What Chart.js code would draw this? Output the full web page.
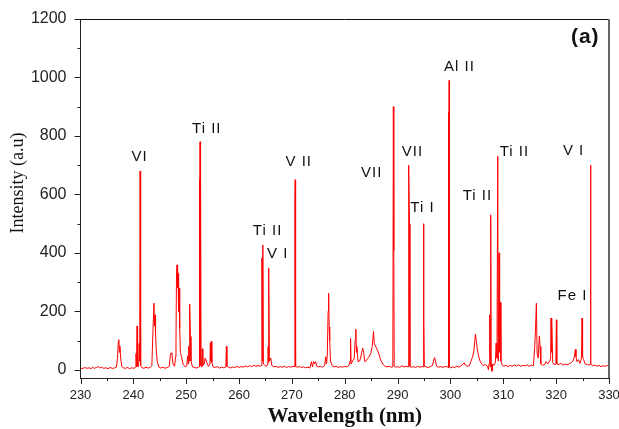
<!DOCTYPE html>
<html lang="en">
<head>
    <meta charset="UTF-8">
    <title>Emission Spectrum</title>
    <script src="https://cdn.jsdelivr.net/npm/chart.js"></script>
    <style>
        body { margin: 0; background: #fff; }
        canvas { display: block; }
    </style>
</head>
<body>
    <canvas id="spectrumChart" width="619" height="429"></canvas>

    <script>
        // spectrum (wavelength in nm, intensity in a.u)
        const wavelength = [
            230.0, 230.4, 230.8, 231.2, 231.6, 232.0, 232.3, 232.6, 233.0, 233.4, 233.7, 234.0, 234.4, 234.8, 235.2, 235.6, 236.0, 236.4, 236.8,
            237.0, 237.15, 237.25, 237.35, 237.45, 237.6, 237.8, 238.1, 238.5, 238.9, 239.3, 239.7, 240.1, 240.4, 240.5, 240.6, 240.7, 240.8,
            241.0, 241.1, 241.2, 241.28, 241.38, 241.6, 242.0, 242.4, 242.8, 243.2, 243.5, 243.7, 243.9, 244.0, 244.1, 244.2, 244.3, 244.5,
            244.8, 245.2, 245.6, 246.0, 246.4, 246.8, 247.0, 247.15, 247.3, 247.5, 247.8, 248.0, 248.07, 248.17, 248.27, 248.37, 248.46,
            248.56, 248.64, 248.77, 248.9, 249.1, 249.4, 249.8, 250.1, 250.28, 250.38, 250.47, 250.56, 250.66, 250.79, 250.9, 251.2, 251.6,
            252.0, 252.3, 252.45, 252.5, 252.55, 252.62, 252.68, 252.75, 252.82, 252.95, 253.06, 253.15, 253.4, 253.6, 253.9, 254.2, 254.5,
            254.57, 254.65, 254.76, 254.85, 255.1, 255.5, 255.9, 256.3, 256.7, 257.1, 257.5, 257.6, 257.7, 258.0, 258.4, 258.8, 259.2, 259.6,
            260.0, 260.4, 260.8, 261.2, 261.6, 262.0, 262.4, 262.8, 263.2, 263.6, 264.0, 264.25, 264.33, 264.42, 264.5, 264.6, 264.9, 265.2,
            265.45, 265.5, 265.57, 265.65, 265.75, 266.0, 266.2, 266.6, 267.0, 267.4, 267.8, 268.2, 268.6, 269.0, 269.4, 269.8, 270.2, 270.5,
            270.56, 270.62, 270.7, 271.0, 271.4, 271.8, 272.2, 272.6, 273.0, 273.4, 273.7, 273.9, 274.1, 274.3, 274.5, 274.7, 275.0, 275.4,
            275.8, 276.2, 276.4, 276.55, 276.7, 276.85, 276.95, 277.05, 277.15, 277.3, 277.6, 278.0, 278.4, 278.8, 279.2, 279.6, 280.0, 280.4,
            280.8, 281.0, 281.1, 281.2, 281.5, 281.8, 281.97, 282.1, 282.2, 282.3, 282.5, 282.8, 283.0, 283.2, 283.4, 283.6, 283.8, 284.0,
            284.3, 284.6, 284.9, 285.2, 285.44, 285.6, 285.9, 286.3, 286.8, 287.2, 287.6, 288.0, 288.4, 288.8, 289.1, 289.2, 289.28, 289.36,
            289.6, 290.0, 290.4, 290.8, 291.2, 291.6, 292.0, 292.1, 292.25, 292.33, 292.6, 293.0, 293.4, 293.8, 294.2, 294.6, 294.85, 294.9,
            294.98, 295.06, 295.4, 295.8, 296.2, 296.6, 296.9, 297.0, 297.15, 297.4, 297.8, 298.2, 298.6, 299.0, 299.4, 299.55, 299.6, 299.68,
            299.75, 299.82, 300.0, 300.4, 300.8, 301.2, 301.6, 302.0, 302.4, 302.6, 302.8, 303.2, 303.6, 303.9, 304.2, 304.45, 304.73, 304.9,
            305.1, 305.35, 305.6, 305.9, 306.2, 306.6, 307.0, 307.2, 307.3, 307.43, 307.52, 307.62, 307.7, 307.85, 308.0, 308.2, 308.5, 308.64,
            308.8, 308.95, 309.02, 309.08, 309.2, 309.3, 309.45, 309.55, 309.8, 310.1, 310.5, 310.9, 311.3, 311.7, 312.1, 312.5, 312.9, 313.3,
            313.7, 314.1, 314.5, 314.9, 315.3, 315.7, 315.95, 316.1, 316.26, 316.4, 316.6, 316.83, 316.95, 317.1, 317.4, 317.8, 318.1, 318.4,
            318.8, 318.95, 319.03, 319.12, 319.2, 319.35, 319.6, 319.95, 320.04, 320.12, 320.5, 320.9, 321.3, 321.7, 322.1, 322.5, 322.9, 323.2,
            323.45, 323.63, 323.75, 323.95, 324.2, 324.5, 324.8, 324.9, 325.0, 325.2, 325.5, 325.9, 326.3, 326.45, 326.5, 326.58, 326.9, 327.3,
            327.7, 328.1, 328.5, 328.9, 329.3, 329.7, 330.0
        ];
        const intensity = [
            6, 4, 8, 5, 7, 4, 9, 5, 8, 11, 6, 9, 5, 7, 4, 8, 5, 6, 9,
            40, 95, 103, 60, 82, 40, 12, 7, 5, 8, 4, 7, 5, 9, 55, 10, 150, 12,
            12, 90, 30, 680, 15, 8, 5, 9, 6, 8, 15, 128, 228, 150, 188, 120, 80, 30,
            10, 6, 9, 5, 8, 12, 50, 58, 55, 20, 12, 45, 103, 330, 359, 280, 330,
            200, 280, 143, 60, 45, 20, 10, 14, 48, 20, 80, 30, 225, 114, 30, 10, 8,
            6, 9, 10, 650, 20, 780, 15, 640, 12, 10, 72, 15, 20, 40, 25, 12, 20,
            92, 30, 97, 25, 10, 8, 11, 6, 9, 7, 10, 80, 12, 9, 6, 10, 7, 12,
            8, 11, 9, 13, 10, 14, 11, 16, 12, 15, 12, 15, 383, 30, 427, 20, 15, 12,
            20, 80, 25, 348, 30, 40, 15, 10, 12, 8, 11, 9, 12, 8, 11, 9, 12, 10,
            550, 650, 12, 9, 11, 8, 10, 7, 9, 6, 28, 10, 28, 20, 28, 12, 10, 12,
            9, 15, 45, 20, 50, 200, 262, 147, 100, 30, 14, 10, 12, 8, 11, 9, 12, 10,
            15, 30, 108, 20, 30, 40, 103, 139, 60, 80, 28, 30, 40, 59, 74, 57, 28, 30,
            38, 45, 55, 80, 131, 89, 78, 63, 34, 20, 12, 10, 12, 9, 10, 900, 407, 12,
            9, 11, 8, 14, 10, 12, 10, 700, 498, 12, 9, 11, 8, 12, 9, 11, 10, 500,
            182, 12, 10, 8, 11, 15, 38, 42, 30, 12, 9, 11, 8, 12, 10, 10, 880, 8,
            990, 10, 6, 10, 8, 12, 9, 14, 20, 24, 16, 12, 15, 30, 45, 68, 122, 97,
            68, 45, 30, 20, 15, 18, 12, 0, 20, 188, 10, 530, 20, -5, 20, 15, 25, 91,
            40, 730, 30, 108, 400, 60, 230, 30, 15, 12, 16, 11, 15, 12, 16, 13, 17, 12,
            15, 13, 17, 12, 16, 14, 80, 140, 228, 57, 40, 116, 80, 20, 15, 18, 28, 20,
            30, 40, 177, 60, 170, 25, 18, 20, 171, 20, 18, 22, 16, 20, 17, 21, 25, 30,
            45, 70, 45, 28, 35, 22, 40, 177, 45, 35, 20, 18, 16, 20, 700, 20, 14, 16,
            12, 15, 11, 14, 12, 15, 13
        ];

        // axis ticks
        const xMajorTicks = [230, 240, 250, 260, 270, 280, 290, 300, 310, 320, 330];
        const xMinorTicks = [235, 245, 255, 265, 275, 285, 295, 305, 315, 325];
        const yMajorTicks = [0, 200, 400, 600, 800, 1000, 1200];
        const yMinorTicks = [100, 300, 500, 700, 900, 1100];

        // line annotations: text and where it sits (nm, a.u)
        const peakLabels = ['VI', 'Ti II', 'Ti II', 'V I', 'V II', 'VII', 'VII', 'Ti I', 'Al II', 'Ti II', 'Ti II', 'V I', 'Fe I'];
        const labelX = [241.2, 253.9, 265.4, 267.3, 271.3, 285.1, 292.8, 294.7, 301.7, 305.1, 312.1, 323.3, 323.1];
        const labelY = [728, 824, 475, 397, 711, 673, 745, 554, 1036, 595, 745, 749, 253];

        const points = wavelength.map((w, i) => ({ x: w, y: intensity[i] }));

        const decorPlugin = {
            id: 'decor',
            afterDraw(chart) {
                const { ctx, chartArea, scales } = chart;
                const xs = scales.x, ys = scales.y;
                ctx.save();

                // frame top + right
                ctx.strokeStyle = '#111';
                ctx.lineWidth = 1;
                ctx.beginPath();
                ctx.moveTo(chartArea.left, chartArea.top + 0.5);
                ctx.lineTo(chartArea.right, chartArea.top + 0.5);
                ctx.stroke();
                ctx.strokeStyle = '#666';
                ctx.lineWidth = 2;
                ctx.beginPath();
                ctx.moveTo(chartArea.right, chartArea.top);
                ctx.lineTo(chartArea.right, chartArea.bottom);
                ctx.stroke();

                // tick marks, pointing outward
                ctx.strokeStyle = '#222';
                ctx.lineWidth = 1;
                ctx.beginPath();
                xMajorTicks.forEach(v => {
                    const px = Math.round(xs.getPixelForValue(v)) + 0.5;
                    ctx.moveTo(px, chartArea.bottom); ctx.lineTo(px, chartArea.bottom + 6);
                });
                xMinorTicks.forEach(v => {
                    const px = Math.round(xs.getPixelForValue(v)) + 0.5;
                    ctx.moveTo(px, chartArea.bottom); ctx.lineTo(px, chartArea.bottom + 3);
                });
                yMajorTicks.forEach(v => {
                    const py = Math.round(ys.getPixelForValue(v)) + 0.5;
                    ctx.moveTo(chartArea.left, py); ctx.lineTo(chartArea.left - 6, py);
                });
                yMinorTicks.forEach(v => {
                    const py = Math.round(ys.getPixelForValue(v)) + 0.5;
                    ctx.moveTo(chartArea.left, py); ctx.lineTo(chartArea.left - 3, py);
                });
                ctx.stroke();

                // peak labels
                ctx.fillStyle = '#111';
                ctx.font = '15px "Liberation Sans", Arial, sans-serif';
                ctx.letterSpacing = '1px';
                ctx.textAlign = 'center';
                ctx.textBaseline = 'middle';
                peakLabels.forEach((t, i) => {
                    ctx.fillText(t, xs.getPixelForValue(labelX[i]), ys.getPixelForValue(labelY[i]));
                });

                ctx.font = 'bold 21px "Liberation Sans", Arial, sans-serif';
                ctx.fillText('(a)', xs.getPixelForValue(325.5), ys.getPixelForValue(1138));
                ctx.letterSpacing = '0px';

                // y axis title
                ctx.font = '18px "Liberation Serif", "Times New Roman", serif';
                ctx.translate(18, 183);
                ctx.rotate(-Math.PI / 2);
                ctx.fillText('Intensity (a.u)', 0, 0);
                ctx.restore();
            }
        };

        const ctx = document.getElementById('spectrumChart').getContext('2d');
        new Chart(ctx, {
            type: 'line',
            data: {
                datasets: [{
                    label: 'Intensity',
                    data: points,
                    borderColor: '#ff0000',
                    borderWidth: 1,
                    pointRadius: 0,
                    tension: 0,
                    fill: false
                }]
            },
            options: {
                responsive: false,
                animation: false,
                layout: { padding: { top: 19, right: 10, left: 0, bottom: 0 } },
                plugins: {
                    legend: { display: false },
                    tooltip: { enabled: false }
                },
                scales: {
                    x: {
                        type: 'linear',
                        min: 230,
                        max: 330,
                        afterBuildTicks: scale => { scale.ticks = xMajorTicks.map(v => ({ value: v })); },
                        afterFit: scale => {
                            scale.height = 51;
                            scale.paddingLeft = 0;
                            scale.paddingRight = 0;
                        },
                        grid: { display: false, drawTicks: false },
                        border: { display: true, color: '#222', width: 1 },
                        ticks: {
                            padding: 10,
                            color: '#222',
                            maxRotation: 0,
                            callback: v => String(v),
                            font: { family: '"Liberation Sans", Arial, sans-serif', size: 13 }
                        },
                        title: {
                            display: true,
                            text: 'Wavelength (nm)',
                            color: '#111',
                            padding: { top: 0, bottom: 0 },
                            font: { family: '"Liberation Serif", "Times New Roman", serif', size: 21, weight: 'bold' }
                        }
                    },
                    y: {
                        min: -28,
                        max: 1200,
                        afterBuildTicks: scale => { scale.ticks = yMajorTicks.map(v => ({ value: v })); },
                        afterFit: scale => {
                            scale.width = 80.5;
                            scale.paddingTop = 0;
                            scale.paddingBottom = 0;
                        },
                        grid: { display: false, drawTicks: false },
                        border: { display: true, color: '#222', width: 1 },
                        ticks: {
                            padding: 14,
                            color: '#222',
                            callback: v => String(v),
                            font: { family: '"Liberation Sans", Arial, sans-serif', size: 16 }
                        }
                    }
                }
            },
            plugins: [decorPlugin]
        });
    </script>
</body>
</html>
